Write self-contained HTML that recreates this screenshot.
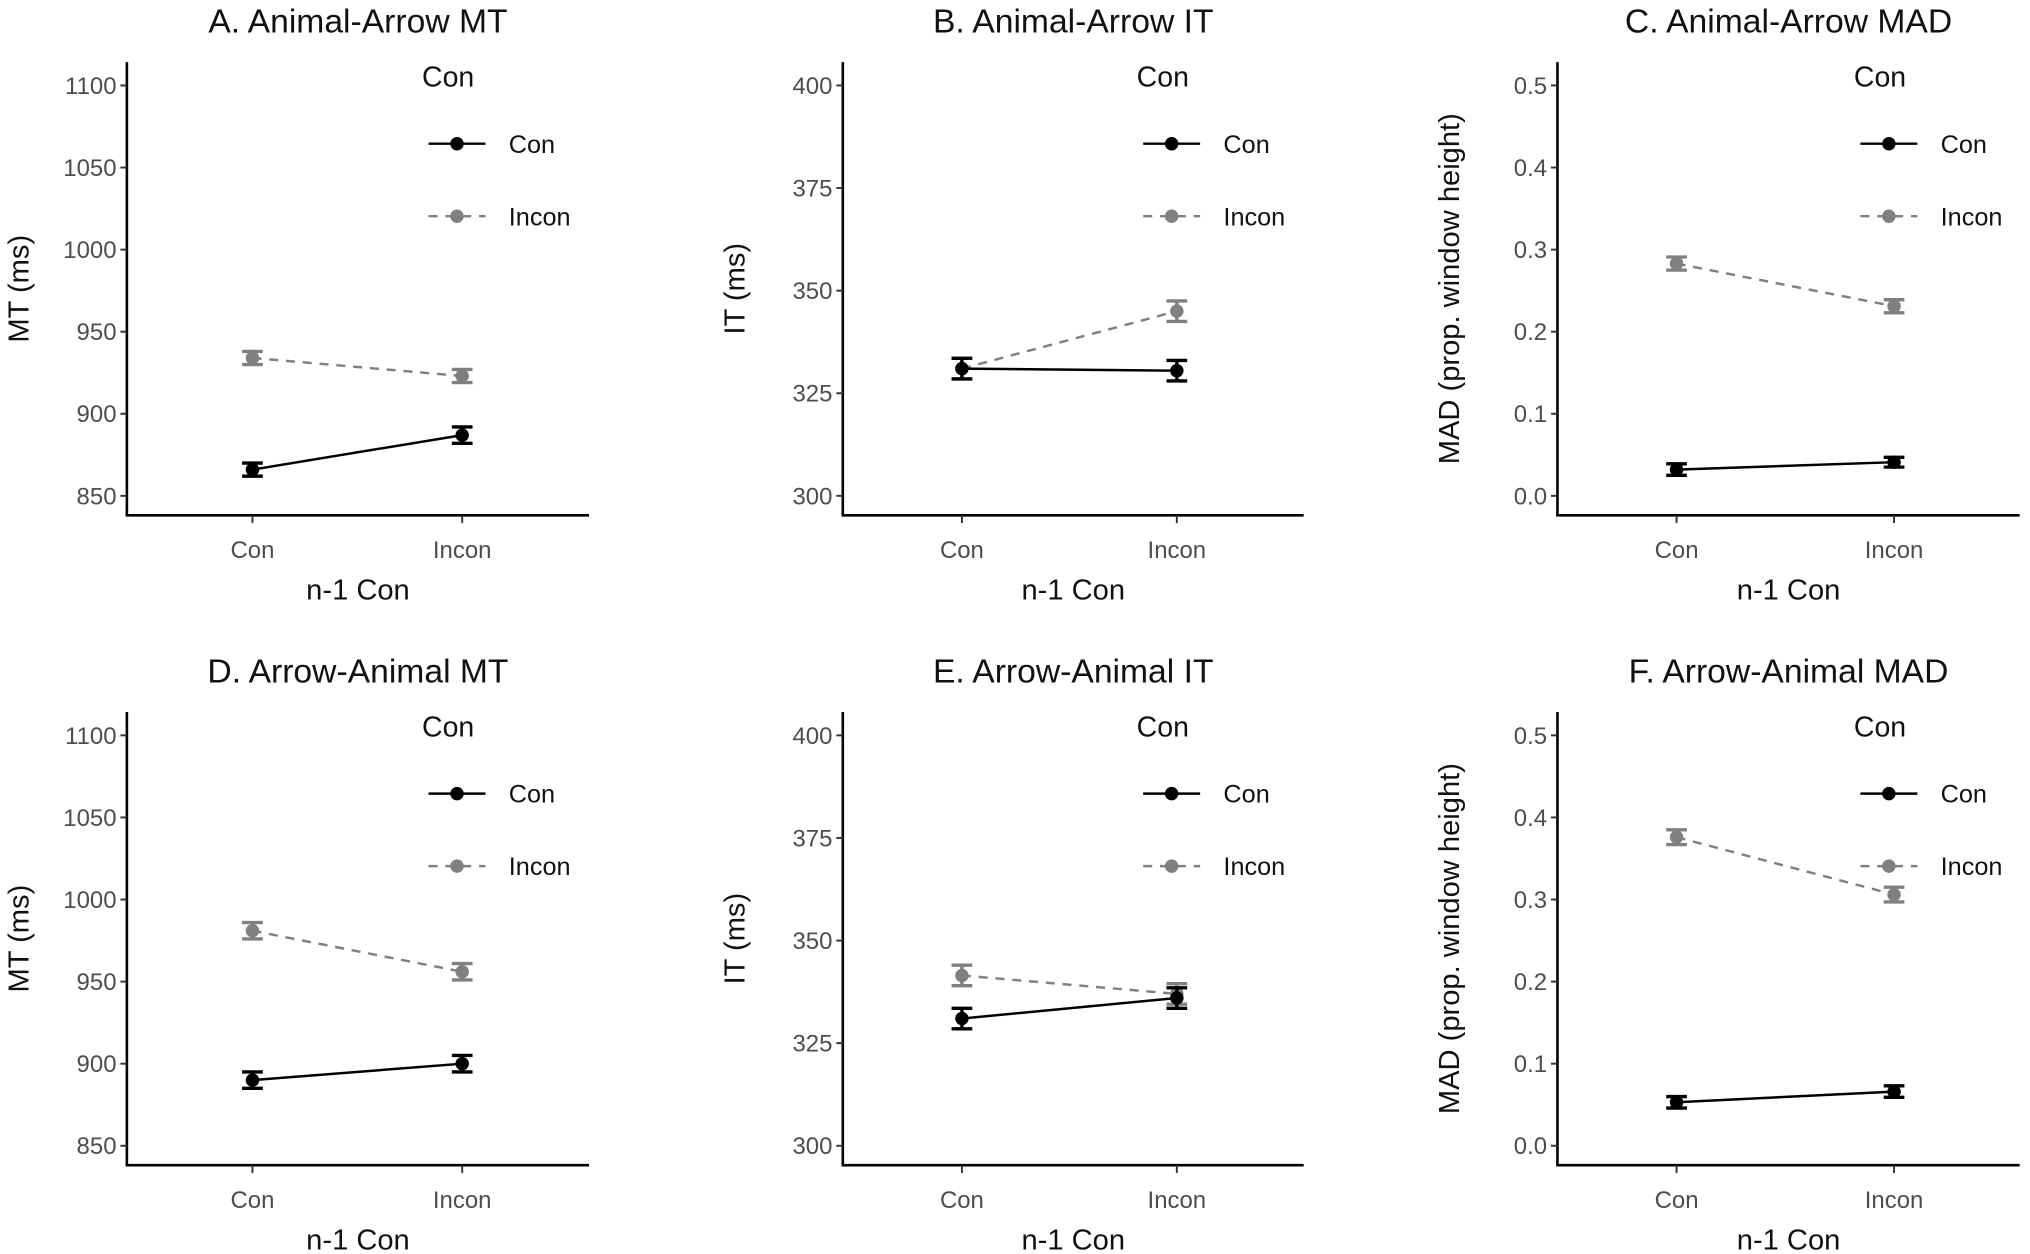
<!DOCTYPE html>
<html><head><meta charset="utf-8"><style>
html,body{margin:0;padding:0;background:#fff;}
svg{display:block;font-family:"Liberation Sans",Arial,sans-serif;}
</style></head><body>
<svg id="chart" width="2030" height="1254" viewBox="0 0 1568 968.6" preserveAspectRatio="none" xmlns="http://www.w3.org/2000/svg"></svg>
<script>
const panelTitles = ["A. Animal-Arrow MT","B. Animal-Arrow IT","C. Animal-Arrow MAD","D. Arrow-Animal MT","E. Arrow-Animal IT","F. Arrow-Animal MAD"];
const categories = ["Con","Incon"];
const seriesNames = ["Con","Incon"];
const yTitles = ["MT (ms)","IT (ms)","MAD (prop. window height)","MT (ms)","IT (ms)","MAD (prop. window height)"];
const ticksMT = [850,900,950,1000,1050,1100];
const ticksIT = [300,325,350,375,400];
const ticksMAD = [0.0,0.1,0.2,0.3,0.4,0.5];
const tickLabelsMAD = ["0.0","0.1","0.2","0.3","0.4","0.5"];
const conA = [866,887], inconA = [934,923], errConA=[4,5], errInconA=[4,4];
const conB = [331,330.5], inconB = [331,345], errConB=[2.5,2.5], errInconB=[2.5,2.5];
const conC = [0.032,0.041], inconC = [0.283,0.231], errConC=[0.007,0.006], errInconC=[0.008,0.008];
const conD = [890,900], inconD = [981,956], errConD=[5,5], errInconD=[5,5];
const conE = [331,336], inconE = [341.5,337], errConE=[2.5,2.5], errInconE=[2.5,2.5];
const conF = [0.053,0.066], inconF = [0.376,0.306], errConF=[0.007,0.007], errInconF=[0.009,0.009];

const NS="http://www.w3.org/2000/svg";
const svg=document.getElementById('chart');
function mk(tag,attrs,parent){const e=document.createElementNS(NS,tag);for(const k in attrs)e.setAttribute(k,attrs[k]);(parent||svg).appendChild(e);return e;}

const panels=[
 {ticks:ticksMT,labels:ticksMT.map(String),min:850,max:1100,con:conA,incon:inconA,ec:errConA,ei:errInconA},
 {ticks:ticksIT,labels:ticksIT.map(String),min:300,max:400,con:conB,incon:inconB,ec:errConB,ei:errInconB},
 {ticks:ticksMAD,labels:tickLabelsMAD,min:0,max:0.5,con:conC,incon:inconC,ec:errConC,ei:errInconC},
 {ticks:ticksMT,labels:ticksMT.map(String),min:850,max:1100,con:conD,incon:inconD,ec:errConD,ei:errInconD},
 {ticks:ticksIT,labels:ticksIT.map(String),min:300,max:400,con:conE,incon:inconE,ec:errConE,ei:errInconE},
 {ticks:ticksMAD,labels:tickLabelsMAD,min:0,max:0.5,con:conF,incon:inconF,ec:errConF,ei:errInconF}
];
const axX=[98,651,1203], axR=[455,1007,1560];
const catX=[[195,357],[743,909],[1295,1463]];
const legX=[331,883,1437];

panels.forEach((p,i)=>{
 const col=i%3,row=Math.floor(i/3),oy=row*502;
 const g=mk('g',{});
 
 
 const yTop=66+oy,yBot=383+oy;
 const yS=v=>yBot-(v-p.min)/(p.max-p.min)*(yBot-yTop);
 const xS=k=>catX[col][k];
 const ax=axX[col];
 let t=mk('text',{x:(ax+axR[col])/2,y:25+oy,'font-size':26,'text-anchor':'middle',fill:'#111'},g);t.textContent=panelTitles[i];
 
 let yl=mk('line',{x1:ax,y1:48+oy,x2:ax,y2:398+oy,stroke:'#000','stroke-width':2},g);
 
 let xl=mk('line',{x1:ax-1,y1:398+oy,x2:axR[col],y2:398+oy,stroke:'#000','stroke-width':2},g);
 
 p.ticks.forEach((v,j)=>{
  const y=yS(v);
  mk('line',{x1:ax-5,y1:y,x2:ax,y2:y,stroke:'#333','stroke-width':1.5},g);
  const tl=mk('text',{x:ax-8,y:y+6.5,'font-size':18.5,'text-anchor':'end',fill:'#4d4d4d'},g);
  tl.textContent=p.labels[j];
  
 });
 categories.forEach((c,k)=>{
  mk('line',{x1:xS(k),y1:398+oy,x2:xS(k),y2:404+oy,stroke:'#333','stroke-width':1.5},g);
  const tl=mk('text',{x:xS(k),y:431+oy,'font-size':18.5,'text-anchor':'middle',fill:'#4d4d4d'},g);
  tl.textContent=c;
  
 });
 const xt=mk('text',{x:(ax+axR[col])/2,y:463+oy,'font-size':22.5,'text-anchor':'middle',fill:'#111'},g);
 xt.textContent='n-1 Con';
 
 const yc=(48+398)/2+oy;
 const yt=mk('text',{x:0,y:0,'font-size':22.5,'text-anchor':'middle',fill:'#111',transform:`translate(${ax-76},${yc}) rotate(-90)`},g);
 yt.textContent=yTitles[i];
 
 const ser=[{v:p.incon,e:p.ei,c:'#808080',d:'7,6'},{v:p.con,e:p.ec,c:'#000',d:''}];
 ser.forEach((s,si)=>{
  const sg=mk('g',{},g);
  
  
  const ln=mk('line',{x1:xS(0),y1:yS(s.v[0]),x2:xS(1),y2:yS(s.v[1]),stroke:s.c,'stroke-width':1.9,'stroke-dasharray':s.d},sg);
  
  s.v.forEach((v,k)=>{
   const x=xS(k),y1=yS(v+s.e[k]),y2=yS(v-s.e[k]);
   const eb=mk('path',{d:`M${x-8},${y1}H${x+8}M${x},${y1}V${y2}M${x-8},${y2}H${x+8}`,stroke:s.c,'stroke-width':2.6,fill:'none'},sg);
   
   const pt=mk('circle',{cx:x,cy:yS(v),r:5.2,fill:s.c},sg);
   
  });
 });
 const lx=legX[col];
 const lg=mk('g',{},g);
 
 const lt=mk('text',{x:lx-5,y:67+oy,'font-size':22,fill:'#111'},lg);lt.textContent='Con';
 
 [{n:seriesNames[0],c:'#000',d:'',y:111},{n:seriesNames[1],c:'#808080',d:'7,6',y:167}].forEach(e=>{
  const eg=mk('g',{},lg);
  
  mk('line',{x1:lx,y1:e.y+oy,x2:lx+44,y2:e.y+oy,stroke:e.c,'stroke-width':1.9,'stroke-dasharray':e.d},eg);
  mk('circle',{cx:lx+22,cy:e.y+oy,r:5.2,fill:e.c},eg);
  const tx=mk('text',{x:lx+62,y:e.y+7+oy,'font-size':19.5,fill:'#111'},eg);tx.textContent=e.n;
 });
});
</script>
</body></html>
